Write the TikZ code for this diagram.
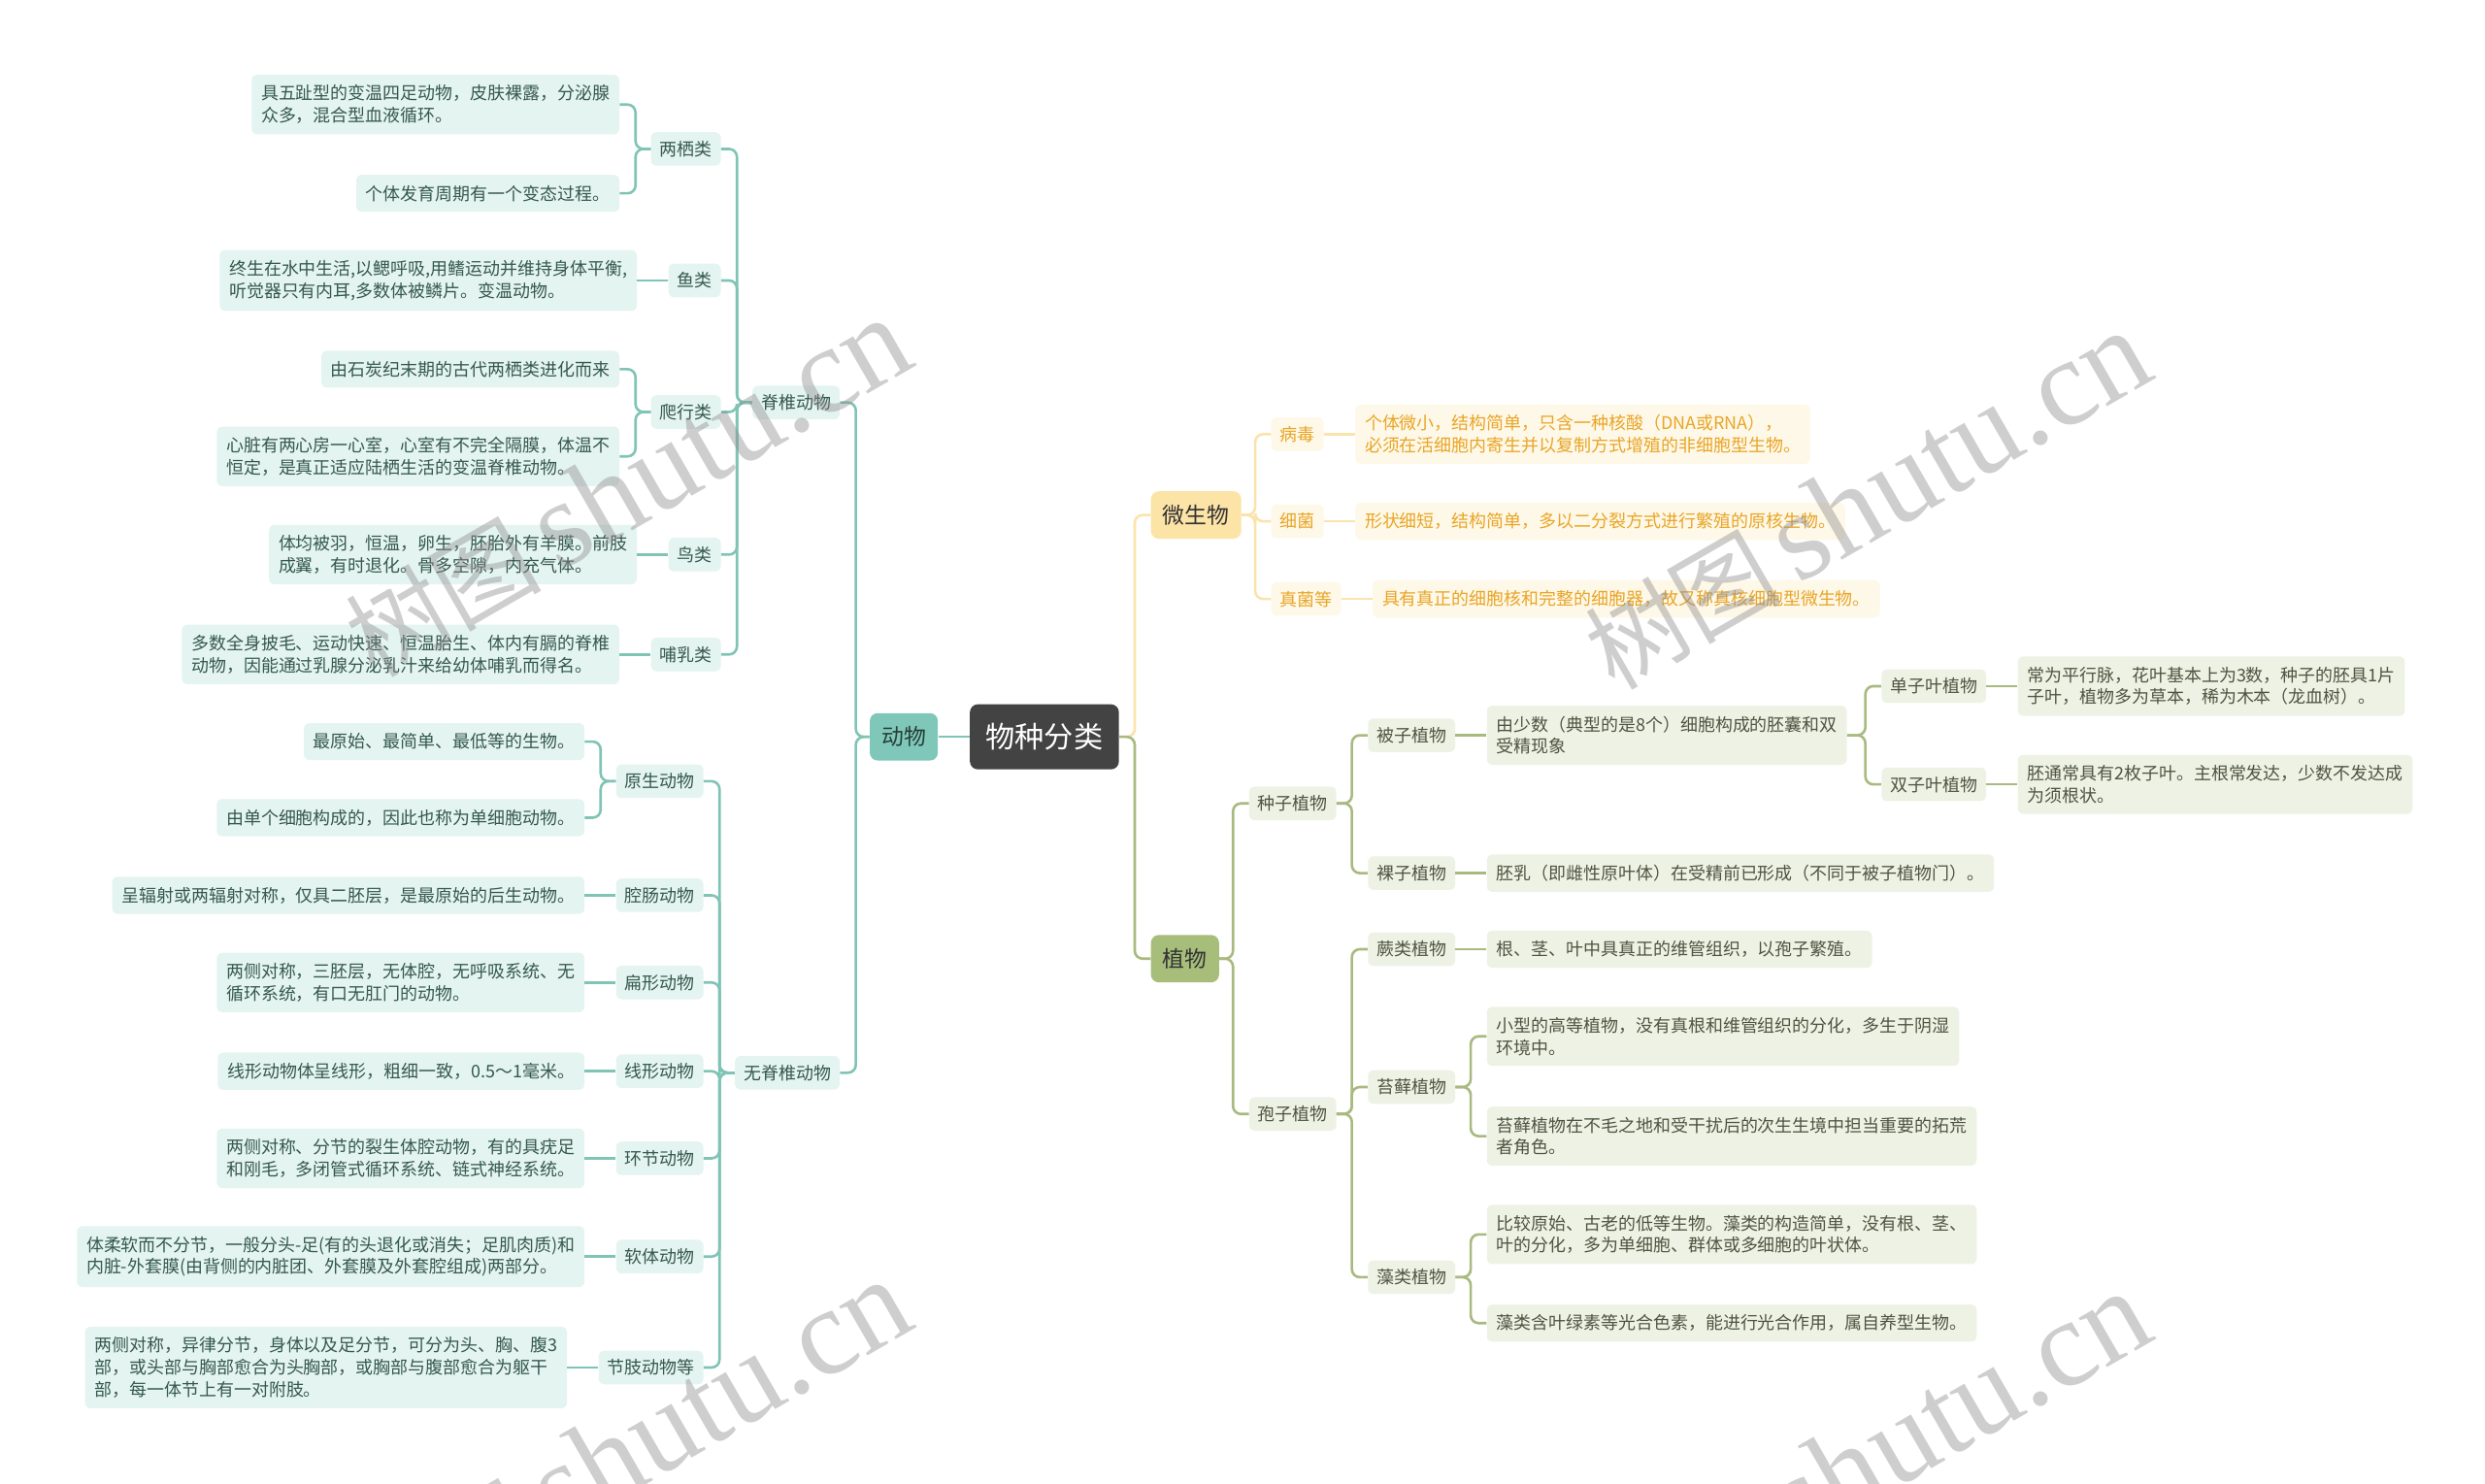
\documentclass[tikz,border=0pt]{standalone}
\usepackage{fontspec}
\newfontfamily\cjk{Noto Sans CJK SC}
\newfontfamily\wmserif{Liberation Serif}
\definecolor{rootBg}{HTML}{434343}
\definecolor{aMain}{HTML}{7FC8B9}
\definecolor{aLn}{HTML}{80C4B6}
\definecolor{aBg}{HTML}{E4F4F0}
\definecolor{aTx}{HTML}{35584F}
\definecolor{mMain}{HTML}{FCE3A6}
\definecolor{mLn}{HTML}{FBE3AC}
\definecolor{mBg}{HTML}{FEF8E8}
\definecolor{mTx}{HTML}{E9A526}
\definecolor{pMain}{HTML}{A7BE7B}
\definecolor{pLn}{HTML}{A9BA80}
\definecolor{pBg}{HTML}{EEF2E5}
\definecolor{pTx}{HTML}{4D5540}
\definecolor{wm}{HTML}{8C8C8C}
\tikzset{
  box/.style={rounded corners=3.5pt, inner xsep=6pt, inner ysep=6.5pt, align=left, font=\cjk\fontsize{11}{14}\selectfont},
  cat/.style={box, inner xsep=5.5pt, inner ysep=5.5pt},
  aleaf/.style={box, fill=aBg, text=aTx},
  acat/.style={cat, fill=aBg, text=aTx},
  mleaf/.style={box, fill=mBg, text=mTx},
  mcat/.style={cat, fill=mBg, text=mTx},
  pleaf/.style={box, fill=pBg, text=pTx},
  pcat/.style={cat, fill=pBg, text=pTx},
  mainbox/.style={rounded corners=5pt, inner xsep=7.5pt, inner ysep=8.5pt, font=\cjk\fontsize{14}{16}\selectfont},
  aconn/.style={draw=aLn, line width=1.6pt, rounded corners=5pt},
  mconn/.style={draw=mLn, line width=1.6pt, rounded corners=5pt},
  pconn/.style={draw=pLn, line width=1.6pt, rounded corners=5pt},
  wmark/.style={rotate=30, text=wm, opacity=0.42}
}
\begin{document}
\begin{tikzpicture}[x=1pt,y=-1pt]
\useasboundingbox[fill=white] (0,0) rectangle (1568,936);

% spine coordinates
\coordinate (sAnimal) at (540,0);
\coordinate (sVert) at (465,0);
\coordinate (sInv) at (454,0);
\coordinate (sAmph) at (401,0);
\coordinate (sRep) at (401,0);
\coordinate (sProt) at (379,0);
\coordinate (sRoot) at (716,0);
\coordinate (sMicro) at (792,0);
\coordinate (sPlant) at (778,0);
\coordinate (sSeed) at (853,0);
\coordinate (sAngio) at (1177,0);
\coordinate (sSpore) at (853,0);
\coordinate (sMoss) at (928,0);
\coordinate (sAlga) at (928,0);

% main nodes
\node[rounded corners=5pt, fill=rootBg, text=white, inner xsep=10pt, inner ysep=12pt, font=\cjk\fontsize{18.5}{20}\selectfont] (root) at (659,465) {物种分类};
\node[mainbox, fill=aMain, text=aTx!70!black, anchor=east] (animal) at (592,465) {动物};
\node[mainbox, fill=mMain, text=black!80, anchor=west] (micro) at (726,325) {微生物};
\node[mainbox, fill=pMain, text=black!80, anchor=west] (plant) at (726,605) {植物};

% vertebrates
\node[acat, anchor=east] (vert) at (530,254) {脊椎动物};
\node[acat, anchor=east] (inv) at (530,677) {无脊椎动物};

\node[acat, anchor=east] (amph) at (455,94) {两栖类};
\node[aleaf, anchor=east] (amph1) at (391,66) {具五趾型的变温四足动物，皮肤裸露，分泌腺\\众多，混合型血液循环。};
\node[aleaf, anchor=east] (amph2) at (391,122) {个体发育周期有一个变态过程。};

\node[acat, anchor=east] (fish) at (455,177) {鱼类};
\node[aleaf, anchor=east] (fish1) at (402,177) {终生在水中生活,以鳃呼吸,用鳍运动并维持身体平衡,\\听觉器只有内耳,多数体被鳞片。变温动物。};

\node[acat, anchor=east] (rept) at (455,260) {爬行类};
\node[aleaf, anchor=east] (rept1) at (391,233) {由石炭纪末期的古代两栖类进化而来};
\node[aleaf, anchor=east] (rept2) at (391,288) {心脏有两心房一心室，心室有不完全隔膜，体温不\\恒定，是真正适应陆栖生活的变温脊椎动物。};

\node[acat, anchor=east] (bird) at (455,350) {鸟类};
\node[aleaf, anchor=east] (bird1) at (402,350) {体均被羽，恒温，卵生，胚胎外有羊膜。前肢\\成翼，有时退化。骨多空隙，内充气体。};

\node[acat, anchor=east] (mamm) at (455,413) {哺乳类};
\node[aleaf, anchor=east] (mamm1) at (391,413) {多数全身披毛、运动快速、恒温胎生、体内有膈的脊椎\\动物，因能通过乳腺分泌乳汁来给幼体哺乳而得名。};

% invertebrates
\node[acat, anchor=east] (prot) at (444,493) {原生动物};
\node[aleaf, anchor=east] (prot1) at (369,468) {最原始、最简单、最低等的生物。};
\node[aleaf, anchor=east] (prot2) at (369,516) {由单个细胞构成的，因此也称为单细胞动物。};

\node[acat, anchor=east] (coel) at (444,565) {腔肠动物};
\node[aleaf, anchor=east] (coel1) at (369,565) {呈辐射或两辐射对称，仅具二胚层，是最原始的后生动物。};

\node[acat, anchor=east] (flat) at (444,620) {扁形动物};
\node[aleaf, anchor=east] (flat1) at (369,620) {两侧对称，三胚层，无体腔，无呼吸系统、无\\循环系统，有口无肛门的动物。};

\node[acat, anchor=east] (nema) at (444,676) {线形动物};
\node[aleaf, anchor=east] (nema1) at (369,676) {线形动物体呈线形，粗细一致，0.5～1毫米。};

\node[acat, anchor=east] (anne) at (444,731) {环节动物};
\node[aleaf, anchor=east] (anne1) at (369,731) {两侧对称、分节的裂生体腔动物，有的具疣足\\和刚毛，多闭管式循环系统、链式神经系统。};

\node[acat, anchor=east] (moll) at (444,793) {软体动物};
\node[aleaf, anchor=east] (moll1) at (369,793) {体柔软而不分节，一般分头-足(有的头退化或消失；足肌肉质)和\\内脏-外套膜(由背侧的内脏团、外套膜及外套腔组成)两部分。};

\node[acat, anchor=east] (arth) at (444,863) {节肢动物等};
\node[aleaf, anchor=east] (arth1) at (358,863) {两侧对称，异律分节，身体以及足分节，可分为头、胸、腹3\\部，或头部与胸部愈合为头胸部，或胸部与腹部愈合为躯干\\部，每一体节上有一对附肢。};

% microorganisms
\node[mcat, anchor=west] (virus) at (802,274) {病毒};
\node[mleaf, anchor=west] (virus1) at (855,274) {个体微小，结构简单，只含一种核酸（DNA或RNA），\\必须在活细胞内寄生并以复制方式增殖的非细胞型生物。};
\node[mcat, anchor=west] (bact) at (802,329) {细菌};
\node[mleaf, anchor=west] (bact1) at (855,329) {形状细短，结构简单，多以二分裂方式进行繁殖的原核生物。};
\node[mcat, anchor=west] (fung) at (802,378) {真菌等};
\node[mleaf, anchor=west] (fung1) at (866,378) {具有真正的细胞核和完整的细胞器，故又称真核细胞型微生物。};

% plants
\node[pcat, anchor=west] (seed) at (788,507) {种子植物};
\node[pcat, anchor=west] (spore) at (788,703) {孢子植物};
\node[pcat, anchor=west] (angio) at (863,464) {被子植物};
\node[pleaf, anchor=west] (angio1) at (938,464) {由少数（典型的是8个）细胞构成的胚囊和双\\受精现象};
\node[pcat, anchor=west] (mono) at (1187,433) {单子叶植物};
\node[pleaf, anchor=west] (mono1) at (1273,433) {常为平行脉，花叶基本上为3数，种子的胚具1片\\子叶，植物多为草本，稀为木本（龙血树）。};
\node[pcat, anchor=west] (dico) at (1187,495) {双子叶植物};
\node[pleaf, anchor=west] (dico1) at (1273,495) {胚通常具有2枚子叶。主根常发达，少数不发达成\\为须根状。};
\node[pcat, anchor=west] (gymno) at (863,551) {裸子植物};
\node[pleaf, anchor=west] (gymno1) at (938,551) {胚乳（即雌性原叶体）在受精前已形成（不同于被子植物门）。};
\node[pcat, anchor=west] (fern) at (863,599) {蕨类植物};
\node[pleaf, anchor=west] (fern1) at (938,599) {根、茎、叶中具真正的维管组织，以孢子繁殖。};
\node[pcat, anchor=west] (moss) at (863,686) {苔藓植物};
\node[pleaf, anchor=west] (moss1) at (938,654) {小型的高等植物，没有真根和维管组织的分化，多生于阴湿\\环境中。};
\node[pleaf, anchor=west] (moss2) at (938,717) {苔藓植物在不毛之地和受干扰后的次生生境中担当重要的拓荒\\者角色。};
\node[pcat, anchor=west] (alga) at (863,806) {藻类植物};
\node[pleaf, anchor=west] (alga1) at (938,779) {比较原始、古老的低等生物。藻类的构造简单，没有根、茎、\\叶的分化，多为单细胞、群体或多细胞的叶状体。};
\node[pleaf, anchor=west] (alga2) at (938,835) {藻类含叶绿素等光合色素，能进行光合作用，属自养型生物。};

% connectors: animals
\draw[aconn] (root.west) -- (animal.east);
\draw[aconn] (animal.west) -- (animal.west -| sAnimal) |- (vert.east);
\draw[aconn] (animal.west) -- (animal.west -| sAnimal) |- (inv.east);
\foreach \c in {amph,fish,rept,bird,mamm}
  \draw[aconn] (vert.west) -- (vert.west -| sVert) |- (\c.east);
\foreach \c in {prot,coel,flat,nema,anne,moll,arth}
  \draw[aconn] (inv.west) -- (inv.west -| sInv) |- (\c.east);
\draw[aconn] (amph.west) -- (amph.west -| sAmph) |- (amph1.east);
\draw[aconn] (amph.west) -- (amph.west -| sAmph) |- (amph2.east);
\draw[aconn] (fish.west) -- (fish1.east);
\draw[aconn] (rept.west) -- (rept.west -| sRep) |- (rept1.east);
\draw[aconn] (rept.west) -- (rept.west -| sRep) |- (rept2.east);
\draw[aconn] (bird.west) -- (bird1.east);
\draw[aconn] (mamm.west) -- (mamm1.east);
\draw[aconn] (prot.west) -- (prot.west -| sProt) |- (prot1.east);
\draw[aconn] (prot.west) -- (prot.west -| sProt) |- (prot2.east);
\draw[aconn] (coel.west) -- (coel1.east);
\draw[aconn] (flat.west) -- (flat1.east);
\draw[aconn] (nema.west) -- (nema1.east);
\draw[aconn] (anne.west) -- (anne1.east);
\draw[aconn] (moll.west) -- (moll1.east);
\draw[aconn] (arth.west) -- (arth1.east);

% connectors: micro
\draw[mconn] (root.east) -- (root.east -| sRoot) |- (micro.west);
\foreach \c in {virus,bact,fung}
  \draw[mconn] (micro.east) -- (micro.east -| sMicro) |- (\c.west);
\draw[mconn] (virus.east) -- (virus1.west);
\draw[mconn] (bact.east) -- (bact1.west);
\draw[mconn] (fung.east) -- (fung1.west);

% connectors: plants
\draw[pconn] (root.east) -- (root.east -| sRoot) |- (plant.west);
\draw[pconn] (plant.east) -- (plant.east -| sPlant) |- (seed.west);
\draw[pconn] (plant.east) -- (plant.east -| sPlant) |- (spore.west);
\draw[pconn] (seed.east) -- (seed.east -| sSeed) |- (angio.west);
\draw[pconn] (seed.east) -- (seed.east -| sSeed) |- (gymno.west);
\draw[pconn] (angio.east) -- (angio1.west);
\draw[pconn] (angio1.east) -- (angio1.east -| sAngio) |- (mono.west);
\draw[pconn] (angio1.east) -- (angio1.east -| sAngio) |- (dico.west);
\draw[pconn] (mono.east) -- (mono1.west);
\draw[pconn] (dico.east) -- (dico1.west);
\draw[pconn] (gymno.east) -- (gymno1.west);
\foreach \c in {fern,moss,alga}
  \draw[pconn] (spore.east) -- (spore.east -| sSpore) |- (\c.west);
\draw[pconn] (fern.east) -- (fern1.west);
\draw[pconn] (moss.east) -- (moss.east -| sMoss) |- (moss1.west);
\draw[pconn] (moss.east) -- (moss.east -| sMoss) |- (moss2.west);
\draw[pconn] (alga.east) -- (alga.east -| sAlga) |- (alga1.west);
\draw[pconn] (alga.east) -- (alga.east -| sAlga) |- (alga2.west);

% watermarks
\begin{scope}
\clip (0,0) rectangle (1568,936);
\node[wmark] (wm1) at (396,308) {\cjk\fontsize{62}{70}\selectfont 树图\,\wmserif\fontsize{78}{80}\selectfont shutu.cn};
\node[wmark] (wm2) at (1178,316) {\cjk\fontsize{62}{70}\selectfont 树图\,\wmserif\fontsize{78}{80}\selectfont shutu.cn};
\node[wmark] (wm3) at (396,915) {\cjk\fontsize{62}{70}\selectfont 树图\,\wmserif\fontsize{78}{80}\selectfont shutu.cn};
\node[wmark] (wm4) at (1178,922) {\cjk\fontsize{62}{70}\selectfont 树图\,\wmserif\fontsize{78}{80}\selectfont shutu.cn};
\end{scope}
\end{tikzpicture}
\end{document}
